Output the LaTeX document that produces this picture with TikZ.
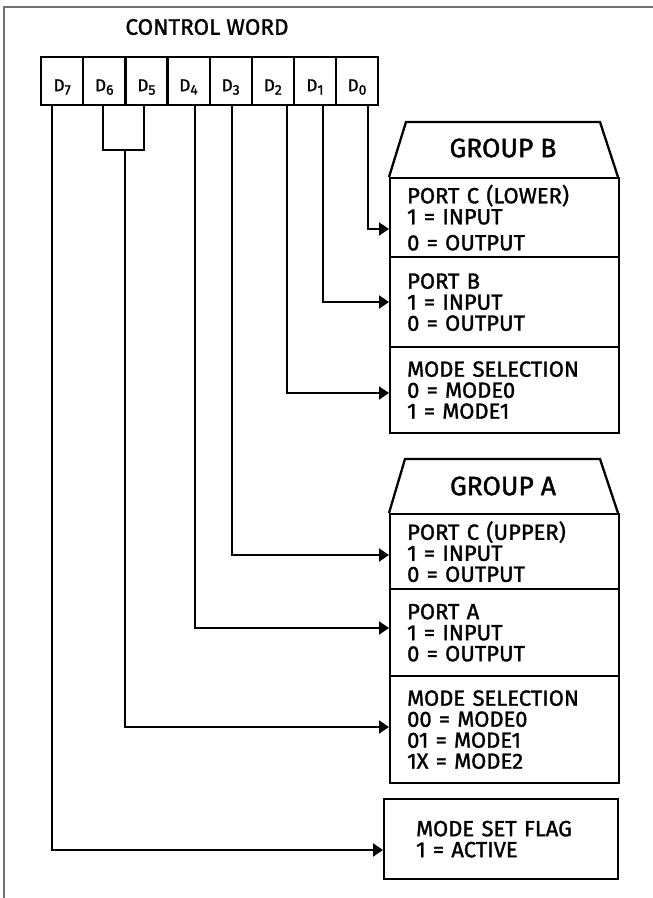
\documentclass[tikz,border=0pt]{standalone}
\usepackage{fontspec}
\setmainfont{Fira Sans}[FakeBold=1.4]
\usetikzlibrary{arrows.meta}
\definecolor{framegray}{HTML}{707070}
\begin{document}
\begin{tikzpicture}[x=1pt,y=-1pt,
  box/.style={draw, line width=2.3pt},
  sect/.style={box, anchor=north west, inner xsep=17pt, inner ysep=0pt, text width=195pt, align=left, font=\fontsize{22}{21}\selectfont},
  cell/.style={box, anchor=north west, minimum width=42.125pt, minimum height=48pt, inner sep=0pt, text height=20pt, text depth=0pt, font=\fontsize{17}{17}\selectfont},
  wire/.style={line width=2pt},
  arr/.style={wire, -{Triangle[length=10pt,width=13pt]}},
  head/.style={font=\fontsize{26.5}{26.5}\selectfont},
  title/.style={font=\fontsize{22.5}{22.5}\selectfont}]
\useasboundingbox (0,0) rectangle (653,898);
% frame
\draw[framegray, line width=2pt] (4,898) -- (4,7) -- (653,7);
% title
\node[title] (cw) at (207,27) {CONTROL WORD};
% register cells
\foreach \i/\n in {0/7,1/6,2/5,3/4,4/3,5/2,6/1,7/0}{
  \node[cell] (d\n) at ({40+\i*42.125},56) {D\raisebox{-3.5pt}{\fontsize{14}{14}\selectfont\n}};
}
% group B
\draw[box] (389,177) -- (406,122) -- (600,122) -- (618,177);
\node[head] (gb) at (503,148) {GROUP B};
\node[sect, minimum height=79pt] (pcl) at (389,177) {PORT C (LOWER)\\ 1 = INPUT\\[5pt] 0 = OUTPUT};
\node[sect, minimum height=90pt] (pb) at (389,256) {PORT B\\ 1 = INPUT\\ 0 = OUTPUT};
\node[sect, minimum height=86pt] (msb) at (389,346) {MODE SELECTION\\ 0 = MODE0\\ 1 = MODE1};
% group A
\draw[box] (389,513) -- (405,459) -- (600,459) -- (618,513);
\node[head] (ga) at (503,486) {GROUP A};
\node[sect, minimum height=75pt] (pcu) at (389,513) {PORT C (UPPER)\\ 1 = INPUT\\ 0 = OUTPUT};
\node[sect, minimum height=87pt] (pa) at (389,588) {PORT A\\ 1 = INPUT\\ 0 = OUTPUT};
\node[sect, minimum height=107pt] (msa) at (389,675) {MODE SELECTION\\ 00 = MODE0\\ 01 = MODE1\\ 1X = MODE2};
% mode set flag
\node[box, anchor=north west, inner xsep=32pt, inner ysep=0pt, text width=170pt, minimum height=80pt, align=left, font=\fontsize{22}{21}\selectfont] (flag) at (383,798) {MODE SET FLAG\\ 1 = ACTIVE};
% connectors
\draw[arr] (d0.south -| 368,0) |- (pcl.west |- 0,229);
\draw[arr] (d1.south -| 323,0) |- (pb.west |- 0,302);
\draw[arr] (d2.south -| 287,0) |- (msb.west |- 0,393);
\draw[arr] (d3.south -| 232,0) |- (pcu.west |- 0,555);
\draw[arr] (d4.south -| 195,0) |- (pa.west |- 0,628);
\coordinate (brk) at (125,150);
\draw[wire] (d6.south -| 103,0) |- (brk) -| (d5.south -| 144,0);
\draw[arr] (brk) |- (msa.west |- 0,727);
\draw[arr] (d7.south -| 52,0) |- (flag.west |- 0,850);
\end{tikzpicture}
\end{document}
